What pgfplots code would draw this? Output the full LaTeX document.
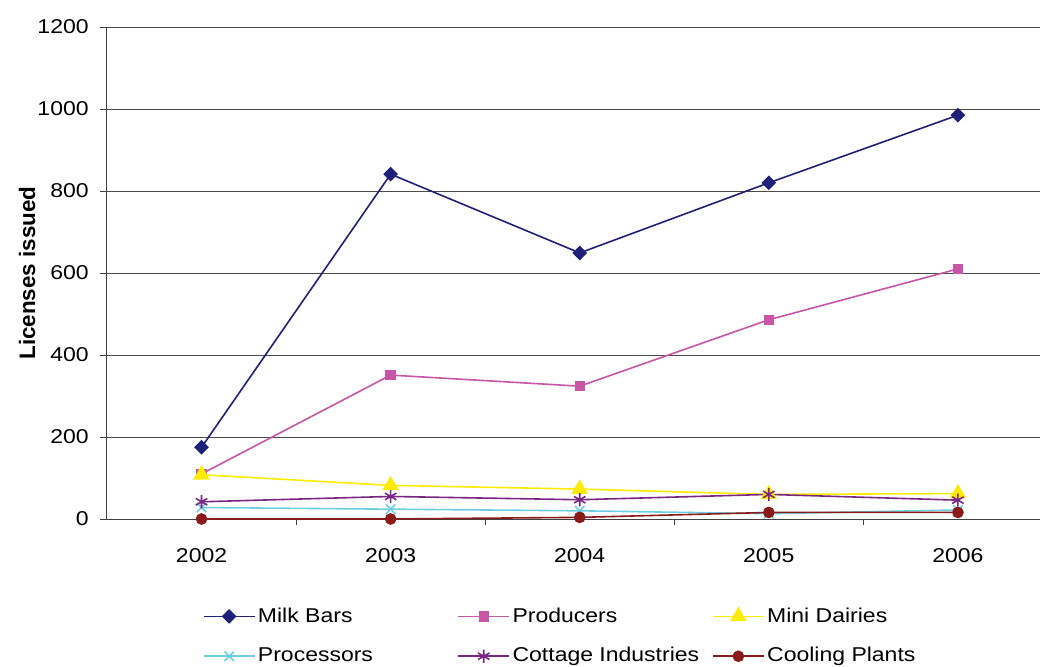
\documentclass[border=0pt]{standalone}
\usepackage{fontspec}
\setmainfont{Liberation Sans}[FakeStretch=1.15]
\newfontfamily\labelfont{Liberation Sans}
\usepackage{pgfplots}
\pgfplotsset{compat=1.18}
\definecolor{cMilk}{HTML}{1F2178}
\definecolor{cProd}{HTML}{C855A6}
\definecolor{cMini}{HTML}{FFEB00}
\definecolor{cProc}{HTML}{6CCFE0}
\definecolor{cCott}{HTML}{7A2784}
\definecolor{cCool}{HTML}{8B1A1A}
\begin{document}
\begin{tikzpicture}
\begin{axis}[
  scale only axis, width=466.5pt, height=246pt,
  xmin=2001.5, xmax=2006.434, ymin=0, ymax=1200,
  axis lines=left, axis line style={-, draw=black!75, line width=0.5pt},
  ytick={0,200,...,1200}, ymajorgrids, grid style={black!70, line width=0.5pt},
  xtick={2002,...,2006}, minor xtick={2002.5,2003.5,2004.5,2005.5},
  major x tick style={draw=none},
  tick align=outside, major tick length=3.5pt, minor tick length=3pt,
  tick style={black!75, line width=0.5pt},
  /pgf/number format/assume math mode=true, /pgf/number format/1000 sep={},
  ticklabel style={font=\fontsize{10}{12}\selectfont},
  yticklabel style={anchor=east, inner sep=0pt, xshift=-5.5pt},
  xticklabel style={anchor=north, inner sep=0pt, yshift=-11pt},
  ylabel={\labelfont\bfseries\fontsize{11.2}{13}\selectfont Licenses issued},
  ylabel style={at={(axis description cs:-0.0857,0.5)}, anchor=center, rotate=0},
  legend columns=3,
  legend cell align=left,
  legend style={draw=none, fill=none, at={(axis description cs:0.0959,-0.163)}, anchor=north west,
    font=\fontsize{10}{12}\selectfont, nodes={inner xsep=1.25pt, inner ysep=2pt}, row sep=7.2pt},
  legend image code/.code={\draw[mark repeat=2,mark phase=2] plot coordinates {(0pt,0pt) (12.75pt,0pt) (25.5pt,0pt)};},
  every axis plot/.append style={line width=0.8pt},
]
\addplot[color=cMilk, mark=square*, mark size=2.2pt, mark options={rotate=45, fill=cMilk}] coordinates {(2002,175) (2003,841) (2004,649) (2005,820) (2006,985)};
\addlegendentry{\makebox[98.5pt][l]{Milk Bars}}
\addplot[color=cProd, mark=square*, mark size=2.2pt, mark options={fill=cProd}] coordinates {(2002,110) (2003,351) (2004,324) (2005,486) (2006,610)};
\addlegendentry{\makebox[98.5pt][l]{Producers}}
\addplot[color=cMini, mark=triangle*, mark size=4pt, mark options={fill=cMini}] coordinates {(2002,108) (2003,82) (2004,73) (2005,60) (2006,62)};
\addlegendentry{\makebox[98.5pt][l]{Mini Dairies}}
\addplot[color=cProc, mark=x, mark size=3.3pt] coordinates {(2002,28) (2003,24) (2004,20) (2005,13) (2006,22)};
\addlegendentry{\makebox[98.5pt][l]{Processors}}
\addplot[color=cCott, mark=asterisk, mark size=3.3pt] coordinates {(2002,42) (2003,55) (2004,47) (2005,60) (2006,46)};
\addlegendentry{\makebox[98.5pt][l]{Cottage Industries}}
\addplot[color=cCool, mark=*, mark size=2.5pt, mark options={fill=cCool}] coordinates {(2002,0) (2003,0) (2004,4) (2005,16) (2006,16)};
\addlegendentry{\makebox[98.5pt][l]{Cooling Plants}}
\end{axis}
\pgfresetboundingbox
\path (current axis.south west) ++(-53.5pt,-73.5pt) rectangle ++(520pt,333pt);
\end{tikzpicture}
\end{document}
